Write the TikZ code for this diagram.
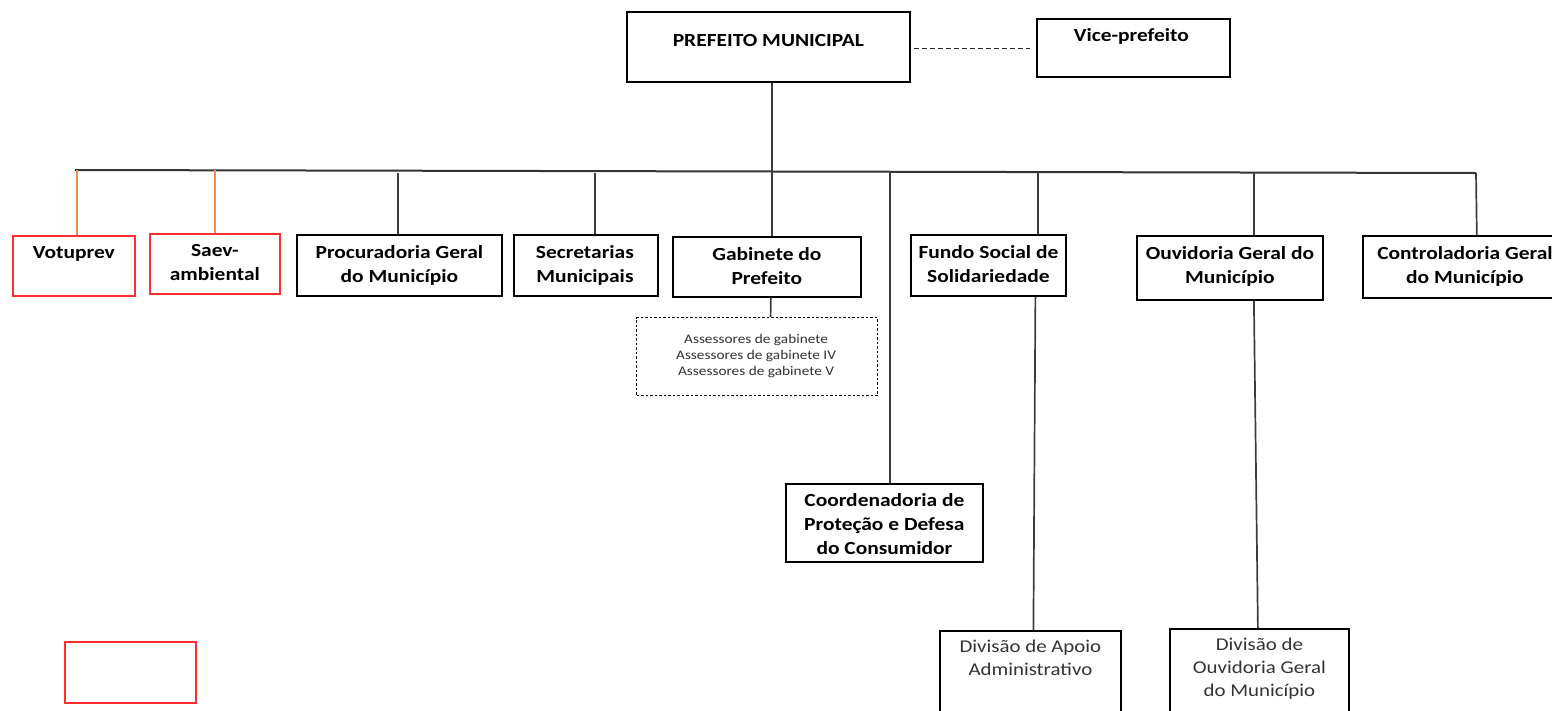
\documentclass[tikz,border=0pt]{standalone}
\usepackage{fontspec}
\setmainfont{Carlito}[FakeStretch=1.16]
\definecolor{boxred}{RGB}{255,45,45}
\definecolor{conorange}{RGB}{237,140,80}
\definecolor{lnk}{RGB}{60,60,60}
\begin{document}
\begin{tikzpicture}[x=1pt,y=-1pt,
  box/.style={draw=black,line width=1.8pt,fill=white,inner sep=0pt,anchor=north west},
  redbox/.style={box,draw=boxred},
  dbox/.style={box,dashed,line width=1.1pt,dash pattern=on 2.5pt off 2pt},
  ttl/.style={anchor=north,inner sep=0pt,align=center,font=\fontsize{18.5}{24}\selectfont\bfseries,yshift=-11pt},
  reg/.style={anchor=north,inner sep=0pt,align=center,font=\fontsize{18}{23}\selectfont,text=black!80,yshift=-10pt},
  small/.style={anchor=north,inner sep=0pt,align=center,font=\fontsize{13.2}{16}\selectfont,text=black!80,yshift=-17pt},
  con/.style={draw=lnk,line width=1.7pt},
  ocon/.style={draw=conorange,line width=1.7pt}]
\useasboundingbox (0,0) rectangle (1552,710);
\clip (0,0) rectangle (1552,710);
% boxes
\node[box,minimum width=283pt,minimum height=70pt] (pref) at (626,11) {};
\node[box,minimum width=193pt,minimum height=58pt] (vice) at (1036,18) {};
\node[redbox,minimum width=122pt,minimum height=60pt] (vot) at (12,235) {};
\node[redbox,minimum width=130pt,minimum height=60pt] (saev) at (149,233) {};
\node[box,minimum width=205pt,minimum height=61pt] (proc) at (296,234) {};
\node[box,minimum width=144pt,minimum height=61pt] (sec) at (513,234) {};
\node[box,minimum width=188pt,minimum height=60pt] (gab) at (672,236) {};
\node[dbox,minimum width=241pt,minimum height=78pt] (ass) at (636,317) {};
\node[box,minimum width=155pt,minimum height=61pt] (fundo) at (910,234) {};
\node[box,minimum width=186pt,minimum height=64pt] (ouv) at (1136,235) {};
\node[box,minimum width=226pt,minimum height=62pt] (cont) at (1362,235) {};
\node[box,minimum width=197pt,minimum height=78pt] (coord) at (785,483) {};
\node[box,minimum width=181pt,minimum height=100pt] (diva) at (939,630) {};
\node[box,minimum width=179pt,minimum height=100pt] (divo) at (1169,628) {};
\node[redbox,minimum width=131pt,minimum height=61pt] (empty) at (64,641) {};
% texts
\node[ttl,yshift=-12pt] (pref-t) at (pref.north) {PREFEITO MUNICIPAL};
\node[ttl,yshift=1pt] (vice-t) at ([xshift=-2pt]vice.north) {Vice-prefeito};
\node[ttl] (vot-t) at (vot.north) {Votuprev};
\node[ttl] (saev-t) at (saev.north) {Saev-\\ambiental};
\node[ttl] (proc-t) at (proc.north) {Procuradoria Geral\\do Município};
\node[ttl] (sec-t) at ([xshift=-1pt]sec.north) {Secretarias\\Municipais};
\node[ttl] (gab-t) at (gab.north) {Gabinete do\\Prefeito};
\node[small] (ass-t) at ([xshift=-1pt]ass.north) {Assessores de gabinete\\Assessores de gabinete IV\\Assessores de gabinete V};
\node[ttl] (fundo-t) at (fundo.north) {Fundo Social de\\Solidariedade};
\node[ttl] (ouv-t) at (ouv.north) {Ouvidoria Geral do\\Município};
\node[ttl] (cont-t) at ([xshift=-11pt]cont.north) {Controladoria Geral\\do Município};
\node[ttl,yshift=1pt] (coord-t) at (coord.north) {Coordenadoria de\\Proteção e Defesa\\do Consumidor};
\node[reg] (diva-t) at (diva.north) {Divisão de Apoio\\Administrativo};
\node[reg] (divo-t) at (divo.north) {Divisão de\\Ouvidoria Geral\\do Município};
% bus
\coordinate (busL) at (75,170);
\coordinate (busR) at (1476,173);
\coordinate (busC) at (890,172);
\draw[con,line width=2pt,draw=black!80] (busL) -- (busR);
% connectors
\draw[con] ([xshift=3.5pt]pref.south) -- ([xshift=5pt]gab.north);
\draw[con,dashed,line width=1.1pt,draw=black!85,dash pattern=on 5pt off 3pt,shorten <=3pt,shorten >=6pt] ([yshift=-2pt]pref.east) -- ([yshift=-1pt]vice.west);
\draw[ocon] ([xshift=3pt]vot.north) -- ([xshift=3pt]vot.north |- busL);
\draw[ocon] (saev.north) -- (saev.north |- busL);
\draw[con] ([xshift=-1.5pt]proc.north) -- ([xshift=-1.5pt,yshift=-3pt]proc.north |- busL);
\draw[con] ([xshift=9pt]sec.north) -- ([xshift=9pt,yshift=-3pt]sec.north |- busL);
\draw[con] ([xshift=13.5pt]ass.north) -- ([xshift=4pt]gab.south);
\draw[con] (coord.north -| busC) -- (busC);
\draw[con] ([xshift=49.5pt]fundo.north) -- ([xshift=49.5pt]fundo.north |- busC);
\draw[con] ([xshift=24pt]ouv.north) -- ([xshift=24pt]ouv.north |- busC);
\draw[con] ([xshift=-113pt]cont.north east) -- (busR);
\draw[con] ([xshift=47pt]fundo.south) -- ([xshift=3pt]diva.north);
\draw[con] ([xshift=24pt]ouv.south) -- ([xshift=-1.5pt]divo.north);
\end{tikzpicture}
\end{document}
